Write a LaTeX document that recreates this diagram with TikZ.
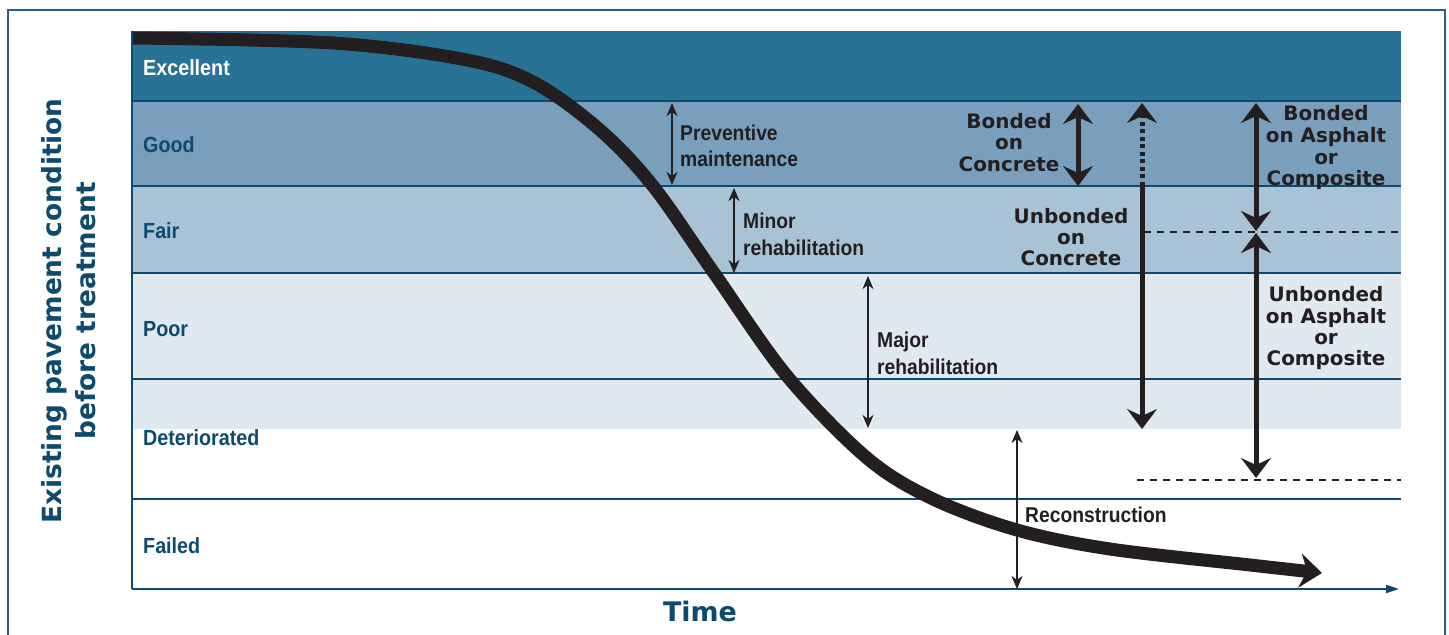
\documentclass[tikz,border=0pt]{standalone}
\usepackage{fontspec}
\setmainfont{Liberation Sans}
\newfontfamily\heavyfont{DejaVu Sans}
\usepackage{graphicx}
\usetikzlibrary{arrows.meta}
\definecolor{excband}{HTML}{287296}
\definecolor{goodband}{HTML}{799FBC}
\definecolor{fairband}{HTML}{A8C3D6}
\definecolor{poorband}{HTML}{E0E8F0}
\definecolor{linecol}{HTML}{0D4A70}
\definecolor{labelblue}{HTML}{0D4A6E}
\definecolor{framecol}{HTML}{2A5F83}
\definecolor{ink}{HTML}{231F20}
\newcommand{\cnd}[1]{\scalebox{0.9}[1]{#1}}
\tikzset{
  thintip/.tip={Stealth[length=13bp,width=11bp,inset=4bp]},
  bigtip/.tip={Stealth[length=20bp,width=30bp,inset=7bp]},
  curvetip/.tip={Stealth[length=22bp,width=34bp,inset=7bp]},
}
\begin{document}
\begin{tikzpicture}[x=1bp,y=-1bp,
  bandlbl/.style={anchor=base west,inner sep=0pt,font=\fontsize{22}{24}\selectfont\bfseries,text=labelblue},
  thinlbl/.style={anchor=base west,inner sep=0pt,font=\fontsize{21.5}{24}\selectfont\bfseries,text=ink},
  heavylbl/.style={anchor=base,inner sep=0pt,font=\heavyfont\fontsize{20}{22}\selectfont\bfseries,text=ink},
  axislbl/.style={anchor=base,inner sep=0pt,rotate=90,font=\heavyfont\fontsize{26.5}{30}\selectfont\bfseries,text=labelblue},
  thinarr/.style={draw=ink,line width=1.8bp,arrows={thintip-thintip}},
  thickarr/.style={draw=ink,line width=5bp,arrows={bigtip-bigtip}},
  bandline/.style={draw=linecol,line width=1.2bp},
  dashline/.style={draw=ink,line width=1.5bp,dash pattern=on 7bp off 6bp},
]
\useasboundingbox (0,0) rectangle (1449,635);
\fill[white] (0,0) rectangle (1449,635);
% outer frame
\begin{scope}
\clip (0,0) rectangle (1449,635);
\draw[framecol,line width=1.5bp] (8,10) rectangle (1445,660);
\end{scope}
% bands
\fill[excband] (132,31) rectangle (1401,101);
\fill[goodband] (132,101) rectangle (1401,186);
\fill[fairband] (132,186) rectangle (1401,273);
\fill[poorband] (132,273) rectangle (1401,429);
\draw[bandline] (132,101) -- (1401,101);
\draw[bandline] (132,186) -- (1401,186);
\draw[bandline] (132,273) -- (1401,273);
\draw[bandline] (132,379) -- (1401,379);
\draw[bandline] (132,499) -- (1401,499);
% axes
\coordinate (origin) at (132,589);
\coordinate (ytop) at (132,31);
\coordinate (xend) at (1399,589);
\draw[linecol,line width=2bp] (ytop) -- (origin);
\draw[linecol,line width=2bp,-{Triangle[length=13bp,width=8bp]}] (origin) -- (xend);
% band labels
\node[bandlbl,text=white] (lexc) at (143,76) {\cnd{Excellent}};
\node[bandlbl] (lgood) at (143,153) {\cnd{Good}};
\node[bandlbl] (lfair) at (143,238) {\cnd{Fair}};
\node[bandlbl] (lpoor) at (143,336) {\cnd{Poor}};
\node[bandlbl] (ldet) at (143,445) {\cnd{Deteriorated}};
\node[bandlbl] (lfail) at (143,553) {\cnd{Failed}};
% axis labels
\node[axislbl] (ylab1) at (61,311) {Existing pavement condition};
\node[axislbl] (ylab2) at (95,311) {before treatment};
\node[anchor=base,inner sep=0pt,font=\heavyfont\fontsize{27}{30}\selectfont\bfseries,text=labelblue] (xlab) at (700,621) {Time};
% dashed reference lines
\coordinate (dA1) at (1144,232); \coordinate (dA2) at (1401,232);
\coordinate (dB1) at (1137,480); \coordinate (dB2) at (1401,480);
\draw[dashline] (dA1) -- (dA2);
\draw[dashline] (dB1) -- (dB2);
% deterioration curve
\draw[ink,line width=13bp,line join=round,-curvetip] plot[smooth,tension=0.55] coordinates {
(133,38) (333,43) (467,60) (535,83) (600,130) (653,186) (714,273) (787,376) (867,458) (933,499) (1017,530) (1110,549) (1250,565) (1322,573)};
% thin treatment arrows
\coordinate (pmT) at (672,103); \coordinate (pmB) at (672,185);
\coordinate (mnT) at (734,188); \coordinate (mnB) at (734,273);
\coordinate (mjT) at (868,276); \coordinate (mjB) at (868,428);
\coordinate (rcT) at (1017,430); \coordinate (rcB) at (1017,589);
\draw[thinarr] (pmT) -- (pmB);
\draw[thinarr] (mnT) -- (mnB);
\draw[thinarr] (mjT) -- (mjB);
\draw[thinarr] (rcT) -- (rcB);
\node[thinlbl] (pm1) at (680,141) {\cnd{Preventive}};
\node[thinlbl] (pm2) at (680,167) {\cnd{maintenance}};
\node[thinlbl] (mn1) at (743,228) {\cnd{Minor}};
\node[thinlbl] (mn2) at (743,255) {\cnd{rehabilitation}};
\node[thinlbl] (mj1) at (877,347) {\cnd{Major}};
\node[thinlbl] (mj2) at (877,374) {\cnd{rehabilitation}};
\node[thinlbl] (rc1) at (1025,522) {\cnd{Reconstruction}};
% thick overlay arrows
\coordinate (bcT) at (1078,104); \coordinate (bcB) at (1078,186);
\coordinate (ucT) at (1142,103); \coordinate (ucM) at (1142,186); \coordinate (ucB) at (1142,429);
\coordinate (baT) at (1256,103); \coordinate (baB) at (1256,231);
\coordinate (uaT) at (1256,233); \coordinate (uaB) at (1256,478);
\draw[thickarr] (bcT) -- (bcB);
\draw[ink,line width=5bp,dash pattern=on 4bp off 3.5bp,-bigtip] (ucM) -- (ucT);
\draw[ink,line width=5bp,-bigtip] (ucM) -- (ucB);
\draw[thickarr] (baT) -- (baB);
\draw[thickarr] (uaT) -- (uaB);
\node[heavylbl] (bc1) at (1009,129) {Bonded};
\node[heavylbl] (bc2) at (1009,150) {on};
\node[heavylbl] (bc3) at (1009,172) {Concrete};
\node[heavylbl] (uc1) at (1071,223) {Unbonded};
\node[heavylbl] (uc2) at (1071,244) {on};
\node[heavylbl] (uc3) at (1071,265) {Concrete};
\node[heavylbl] (ba1) at (1326,121) {Bonded};
\node[heavylbl] (ba2) at (1326,143) {on Asphalt};
\node[heavylbl] (ba3) at (1326,165) {or};
\node[heavylbl] (ba4) at (1326,186) {Composite};
\node[heavylbl] (ua1) at (1326,301) {Unbonded};
\node[heavylbl] (ua2) at (1326,323) {on Asphalt};
\node[heavylbl] (ua3) at (1326,344) {or};
\node[heavylbl] (ua4) at (1326,365) {Composite};
\end{tikzpicture}
\end{document}
